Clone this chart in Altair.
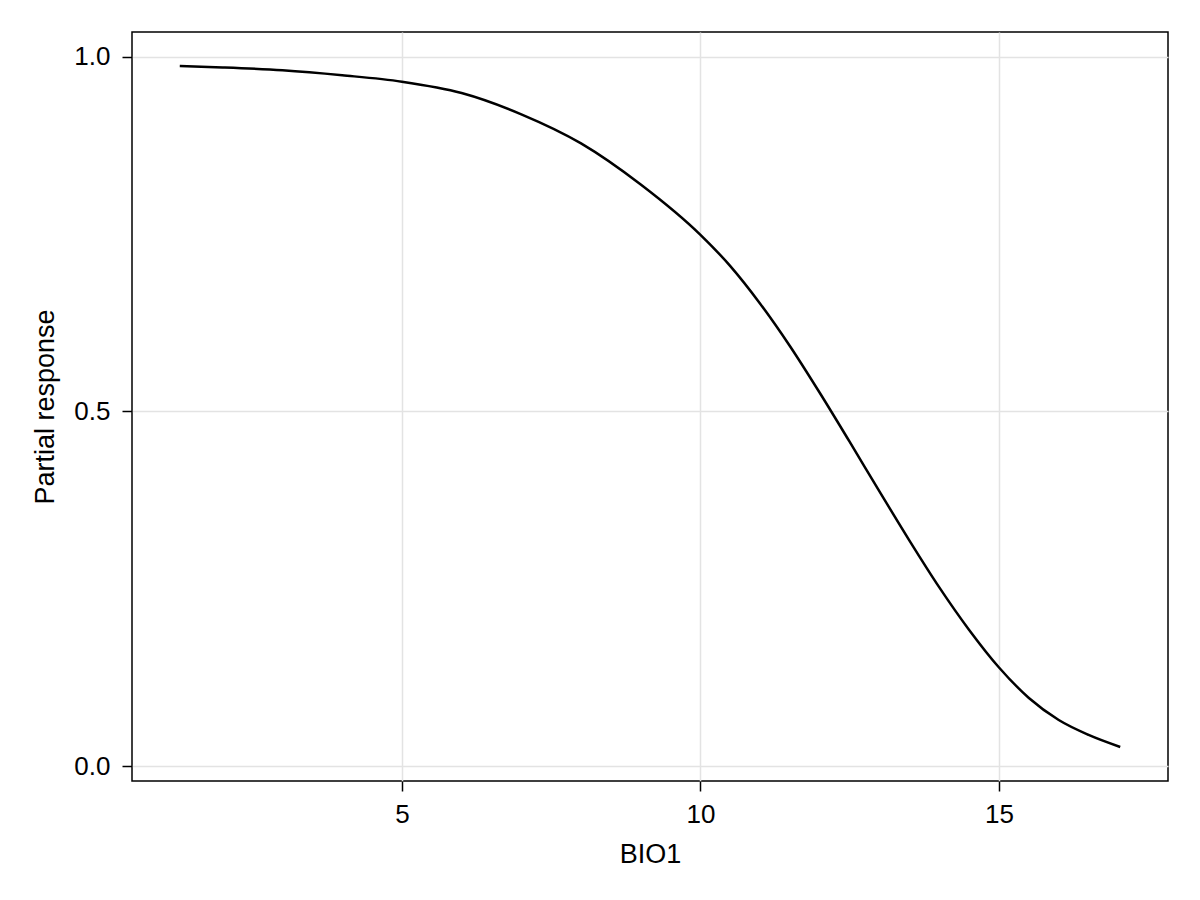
import altair as alt
import pandas as pd

bio1 = [1.28, 2.0, 3.0, 4.0, 5.0, 6.0, 7.0, 8.0, 9.0, 10.0, 10.5, 11.0, 11.5,
        12.0, 12.5, 13.0, 13.5, 14.0, 14.5, 15.0, 15.5, 16.0, 16.5, 17.03]
response = [0.987, 0.985, 0.981, 0.974, 0.965, 0.949, 0.919, 0.878, 0.820, 0.749,
            0.705, 0.652, 0.592, 0.526, 0.457, 0.387, 0.318, 0.252, 0.192, 0.139,
            0.096, 0.065, 0.044, 0.027]
x_ticks = [5, 10, 15]
y_ticks = [0.0, 0.5, 1.0]

df = pd.DataFrame({"BIO1": bio1, "resp": response})

FONT = "Liberation Sans"

chart = alt.Chart(df).mark_line(color="black", strokeWidth=2.5, interpolate="monotone").encode(
    x=alt.X("BIO1:Q",
            scale=alt.Scale(domain=[0.48, 17.83], nice=False, zero=False),
            axis=alt.Axis(title="BIO1", values=x_ticks, format="d",
                          labelPadding=10, titlePadding=14)),
    y=alt.Y("resp:Q",
            scale=alt.Scale(domain=[-0.021, 1.035], nice=False, zero=False),
            axis=alt.Axis(title="Partial response", values=y_ticks, format=".1f",
                          labelPadding=12, titlePadding=14)),
).properties(
    width=1036, height=749,
    autosize=alt.AutoSizeParams(type="none"),
    padding={"left": 124, "top": 24, "right": 24, "bottom": 100},
).configure_view(
    stroke="black", strokeWidth=1.5
).configure_axis(
    grid=True, gridColor="#e3e3e3", gridWidth=1.5,
    domain=False,
    tickColor="black", tickSize=10, tickWidth=1.5,
    labelFont=FONT, labelFontSize=26, labelColor="black",
    titleFont=FONT, titleFontSize=27, titleFontWeight="normal", titleColor="black",
)

chart.save("out.html", embed_options={"renderer": "svg", "actions": False})
